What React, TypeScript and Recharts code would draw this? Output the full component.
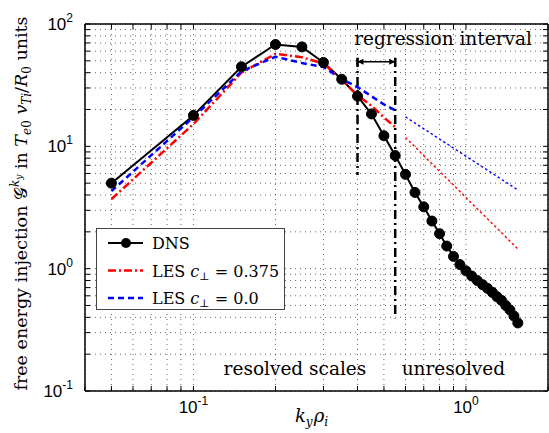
import React from 'react';
import {
  LineChart,
  Line,
  XAxis,
  YAxis,
  CartesianGrid,
  ReferenceLine,
  ReferenceDot,
  Legend,
} from 'recharts';

// ---- data ----
const dnsK = [0.05, 0.1, 0.15, 0.2, 0.25, 0.3, 0.35, 0.4, 0.45, 0.5, 0.55, 0.6, 0.65, 0.7, 0.75, 0.8, 0.85, 0.9, 0.95, 1.0, 1.05, 1.1, 1.15, 1.2, 1.25, 1.3, 1.35, 1.4, 1.45, 1.5, 1.55];
const dnsG = [5.0, 17.9, 44.7, 68, 65, 48.5, 35.3, 25.7, 18.4, 12.2, 8.4, 5.9, 4.2, 3.2, 2.45, 1.93, 1.53, 1.26, 1.08, 0.96, 0.87, 0.8, 0.74, 0.69, 0.64, 0.59, 0.55, 0.5, 0.46, 0.41, 0.36];

const lesK = [0.05, 0.1, 0.15, 0.2, 0.25, 0.3, 0.35, 0.4, 0.45, 0.5, 0.55];
const lesRed = [3.7, 15.2, 40, 57, 53.5, 47.5, 35, 26.2, 21.5, 17.2, 14.4];
const lesBlue = [4.3, 17.3, 41, 54, 48, 44.5, 35.5, 30.5, 25.7, 22, 19.7];

const fitK = [0.6, 1.55];
const fitRed = [11.8, 1.45];
const fitBlue = [17.4, 4.4];

const xTicks = [0.04, 0.05, 0.06, 0.07, 0.08, 0.09, 0.1, 0.2, 0.3, 0.4, 0.5, 0.6, 0.7, 0.8, 0.9, 1, 2];
const yTicks = [0.1, 0.2, 0.3, 0.4, 0.5, 0.6, 0.7, 0.8, 0.9, 1, 2, 3, 4, 5, 6, 7, 8, 9, 10, 20, 30, 40, 50, 60, 70, 80, 90, 100];

const legendLabels = ['DNS', 'LES', 'LES'];
const legendCValues = ['', '0.375', '0.0'];

const toRows = (k: number[], g: number[]) => k.map((v, i) => ({ k: v, g: g[i] }));
const dnsData = toRows(dnsK, dnsG);
const redData = toRows(lesK, lesRed);
const blueData = toRows(lesK, lesBlue);
const redFit = toRows(fitK, fitRed);
const blueFit = toRows(fitK, fitBlue);

// ---- styling ----
const SERIF = 'DejaVu Serif, serif';
const SANS = 'Liberation Sans, Arial, sans-serif';
const RED = '#ff0000';
const BLUE = '#0000ff';

const isMajor = (v: number) => Math.abs(Math.log10(v) - Math.round(Math.log10(v))) < 1e-9;

const XTick = (props: any) => {
  const { x, y, payload } = props;
  const v = payload.value;
  if (!isMajor(v)) return <g />;
  const e = Math.round(Math.log10(v));
  return (
    <text x={x} y={y + 22} textAnchor="middle" fontFamily={SANS} fontSize={17} fill="#000">
      10
      <tspan dy={-8} fontSize={12}>{e}</tspan>
    </text>
  );
};

const YTick = (props: any) => {
  const { x, y, payload } = props;
  const v = payload.value;
  if (!isMajor(v)) return <g />;
  const e = Math.round(Math.log10(v));
  return (
    <text x={x - 12} y={y + 6} textAnchor="end" fontFamily={SANS} fontSize={17} fill="#000">
      10
      <tspan dy={-8} fontSize={12}>{e}</tspan>
    </text>
  );
};

const EmptyTick = () => <g />;

const XLabel = (props: any) => {
  const vb = props.viewBox || { x: 85, y: 391, width: 463 };
  const cx = vb.x + vb.width / 2 - 5;
  const by = vb.y + 31;
  return (
    <text x={cx} y={by} textAnchor="middle" fontFamily={SERIF} fontSize={18} fontStyle="italic" fill="#000">
      k<tspan dy={4} fontSize={12}>y</tspan>
      <tspan dy={-4} fontSize={18} dx={1}>ρ</tspan>
      <tspan dy={4} fontSize={12}>i</tspan>
    </text>
  );
};

const YLabel = (props: any) => {
  const vb = props.viewBox || { y: 24, height: 367 };
  const cx = 27;
  const cy = vb.y + vb.height / 2 - 4;
  return (
    <text
      x={cx}
      y={cy}
      transform={`rotate(-90 ${cx} ${cy})`}
      textAnchor="middle"
      fontFamily={SERIF}
      fontSize={17.5}
      fill="#000"
    >
      free energy injection 𝒢
      <tspan dy={-8} fontSize={12} fontStyle="italic">k</tspan>
      <tspan dy={3} fontSize={9} fontStyle="italic">y</tspan>
      <tspan dy={5} fontSize={17.5}> in </tspan>
      <tspan fontStyle="italic">T</tspan>
      <tspan dy={4} fontSize={12} fontStyle="italic">e</tspan>
      <tspan fontSize={12}>0</tspan>
      <tspan dy={-4} fontSize={17.5}> </tspan>
      <tspan fontStyle="italic">v</tspan>
      <tspan dy={4} fontSize={12} fontStyle="italic">Ti</tspan>
      <tspan dy={-4} fontSize={17.5}>/</tspan>
      <tspan fontStyle="italic">R</tspan>
      <tspan dy={4} fontSize={12}>0</tspan>
      <tspan dy={-4} fontSize={17.5}> units</tspan>
    </text>
  );
};

const ArrowShape = (p: any) => {
  const { x1, y1, x2, y2 } = p;
  const h = 6;
  const w = 3;
  return (
    <g>
      <line x1={x1} y1={y1} x2={x2} y2={y2} stroke="#000" strokeWidth={1.5} />
      <polygon points={`${x1},${y1} ${x1 + h},${y1 - w} ${x1 + h},${y1 + w}`} fill="#000" />
      <polygon points={`${x2},${y2} ${x2 - h},${y2 - w} ${x2 - h},${y2 + w}`} fill="#000" />
      <line x1={x1} y1={y1 - 4} x2={x1} y2={y1 + 4} stroke="#000" strokeWidth={2} />
      <line x1={x2} y1={y2 - 4} x2={x2} y2={y2 + 4} stroke="#000" strokeWidth={2} />
    </g>
  );
};

const makeTextShape = (label: string) => (p: any) => (
  <text x={p.cx} y={p.cy} textAnchor="middle" fontFamily={SERIF} fontSize={18.5} fill="#000">
    {label}
  </text>
);

const LegendBox = () => {
  const rows = [15, 42.5, 70];
  return (
    <svg width={189} height={82} style={{ display: 'block' }}>
      <rect x={0.5} y={0.5} width={188} height={81} fill="#fff" stroke="#444" strokeWidth={1} />
      {/* DNS */}
      <line x1={12} y1={rows[0]} x2={47} y2={rows[0]} stroke="#000" strokeWidth={2} />
      <circle cx={30} cy={rows[0]} r={5} fill="#000" />
      <text x={56} y={rows[0] + 6} fontFamily={SERIF} fontSize={16} fill="#000">{legendLabels[0]}</text>
      {/* LES red */}
      <line x1={12} y1={rows[1]} x2={47} y2={rows[1]} stroke={RED} strokeWidth={2.5} strokeDasharray="8 3 2 3" />
      <text x={56} y={rows[1] + 6} fontFamily={SERIF} fontSize={16} fill="#000">
        {legendLabels[1]} <tspan fontStyle="italic">c</tspan>
        <tspan dy={3} fontSize={11}>⊥</tspan>
        <tspan dy={-3}> = {legendCValues[1]}</tspan>
      </text>
      {/* LES blue */}
      <line x1={12} y1={rows[2]} x2={47} y2={rows[2]} stroke={BLUE} strokeWidth={2.5} strokeDasharray="6 4" />
      <text x={56} y={rows[2] + 6} fontFamily={SERIF} fontSize={16} fill="#000">
        {legendLabels[2]} <tspan fontStyle="italic">c</tspan>
        <tspan dy={3} fontSize={11}>⊥</tspan>
        <tspan dy={-3}> = {legendCValues[2]}</tspan>
      </text>
    </svg>
  );
};

export default function App() {
  return (
    <div style={{ position: 'absolute', left: 0, top: 0, width: 549, height: 433, background: '#fff' }}>
      <LineChart width={549} height={433} margin={{ top: 23, right: 0, bottom: 0, left: 0 }}>
        <CartesianGrid stroke="#000" strokeOpacity={0.6} strokeDasharray="1 4" />
        <XAxis
          dataKey="k"
          type="number"
          scale="log"
          domain={[0.04, 2]}
          allowDataOverflow
          ticks={xTicks}
          interval={0}
          tick={XTick}
          tickSize={-5}
          tickMargin={5}
          height={42}
          axisLine={{ stroke: '#000', strokeWidth: 1.5 }}
          tickLine={{ stroke: '#000' }}
          label={XLabel}
        />
        <XAxis
          xAxisId="top"
          orientation="top"
          dataKey="k"
          type="number"
          scale="log"
          domain={[0.04, 2]}
          allowDataOverflow
          ticks={xTicks}
          interval={0}
          tick={EmptyTick}
          tickSize={-5}
          height={1}
          axisLine={{ stroke: '#000', strokeWidth: 1.5 }}
          tickLine={{ stroke: '#000' }}
        />
        <YAxis
          type="number"
          scale="log"
          domain={[0.1, 100]}
          allowDataOverflow
          ticks={yTicks}
          interval={0}
          tick={YTick}
          tickSize={-5}
          tickMargin={5}
          width={85}
          axisLine={{ stroke: '#000', strokeWidth: 1.5 }}
          tickLine={{ stroke: '#000' }}
          label={YLabel}
        />
        <YAxis
          yAxisId="right"
          orientation="right"
          type="number"
          scale="log"
          domain={[0.1, 100]}
          allowDataOverflow
          ticks={yTicks}
          interval={0}
          tick={EmptyTick}
          tickSize={-5}
          width={1}
          axisLine={{ stroke: '#000', strokeWidth: 1.5 }}
          tickLine={{ stroke: '#000' }}
        />

        <ReferenceLine
          segment={[{ x: 0.4, y: 52.7 }, { x: 0.4, y: 5.82 }]}
          stroke="#000"
          strokeWidth={2.5}
          strokeDasharray="9 4 2 4"
        />
        <ReferenceLine
          segment={[{ x: 0.55, y: 52.7 }, { x: 0.55, y: 0.394 }]}
          stroke="#000"
          strokeWidth={2.5}
          strokeDasharray="9 4 2 4"
        />
        <ReferenceLine segment={[{ x: 0.4, y: 49.2 }, { x: 0.55, y: 49.2 }]} shape={ArrowShape} />

        <Line
          data={dnsData}
          dataKey="g"
          type="linear"
          stroke="#000"
          strokeWidth={2}
          dot={{ r: 5, fill: '#000', stroke: '#000', strokeWidth: 1 }}
          activeDot={false}
          isAnimationActive={false}
          legendType="none"
        />
        <Line
          data={redData}
          dataKey="g"
          type="linear"
          stroke={RED}
          strokeWidth={2.5}
          strokeDasharray="8 3 2 3"
          dot={false}
          activeDot={false}
          isAnimationActive={false}
          legendType="none"
        />
        <Line
          data={blueData}
          dataKey="g"
          type="linear"
          stroke={BLUE}
          strokeWidth={2.5}
          strokeDasharray="6 4"
          dot={false}
          activeDot={false}
          isAnimationActive={false}
          legendType="none"
        />
        <Line
          data={redFit}
          dataKey="g"
          type="linear"
          stroke={RED}
          strokeWidth={1.4}
          strokeDasharray="2.5 2.5"
          dot={false}
          activeDot={false}
          isAnimationActive={false}
          legendType="none"
        />
        <Line
          data={blueFit}
          dataKey="g"
          type="linear"
          stroke={BLUE}
          strokeWidth={1.4}
          strokeDasharray="2.5 2.5"
          dot={false}
          activeDot={false}
          isAnimationActive={false}
          legendType="none"
        />

        <ReferenceDot x={0.824} y={67.3} r={0} shape={makeTextShape('regression interval')} />
        <ReferenceDot x={0.2358} y={0.135} r={0} shape={makeTextShape('resolved scales')} />
        <ReferenceDot x={0.899} y={0.135} r={0} shape={makeTextShape('unresolved')} />

        <Legend
          layout="horizontal"
          verticalAlign="middle"
          align="center"
          content={LegendBox}
          wrapperStyle={{ left: 96, top: 228, width: 189, height: 82, margin: 0, padding: 0 }}
        />
      </LineChart>
    </div>
  );
}
